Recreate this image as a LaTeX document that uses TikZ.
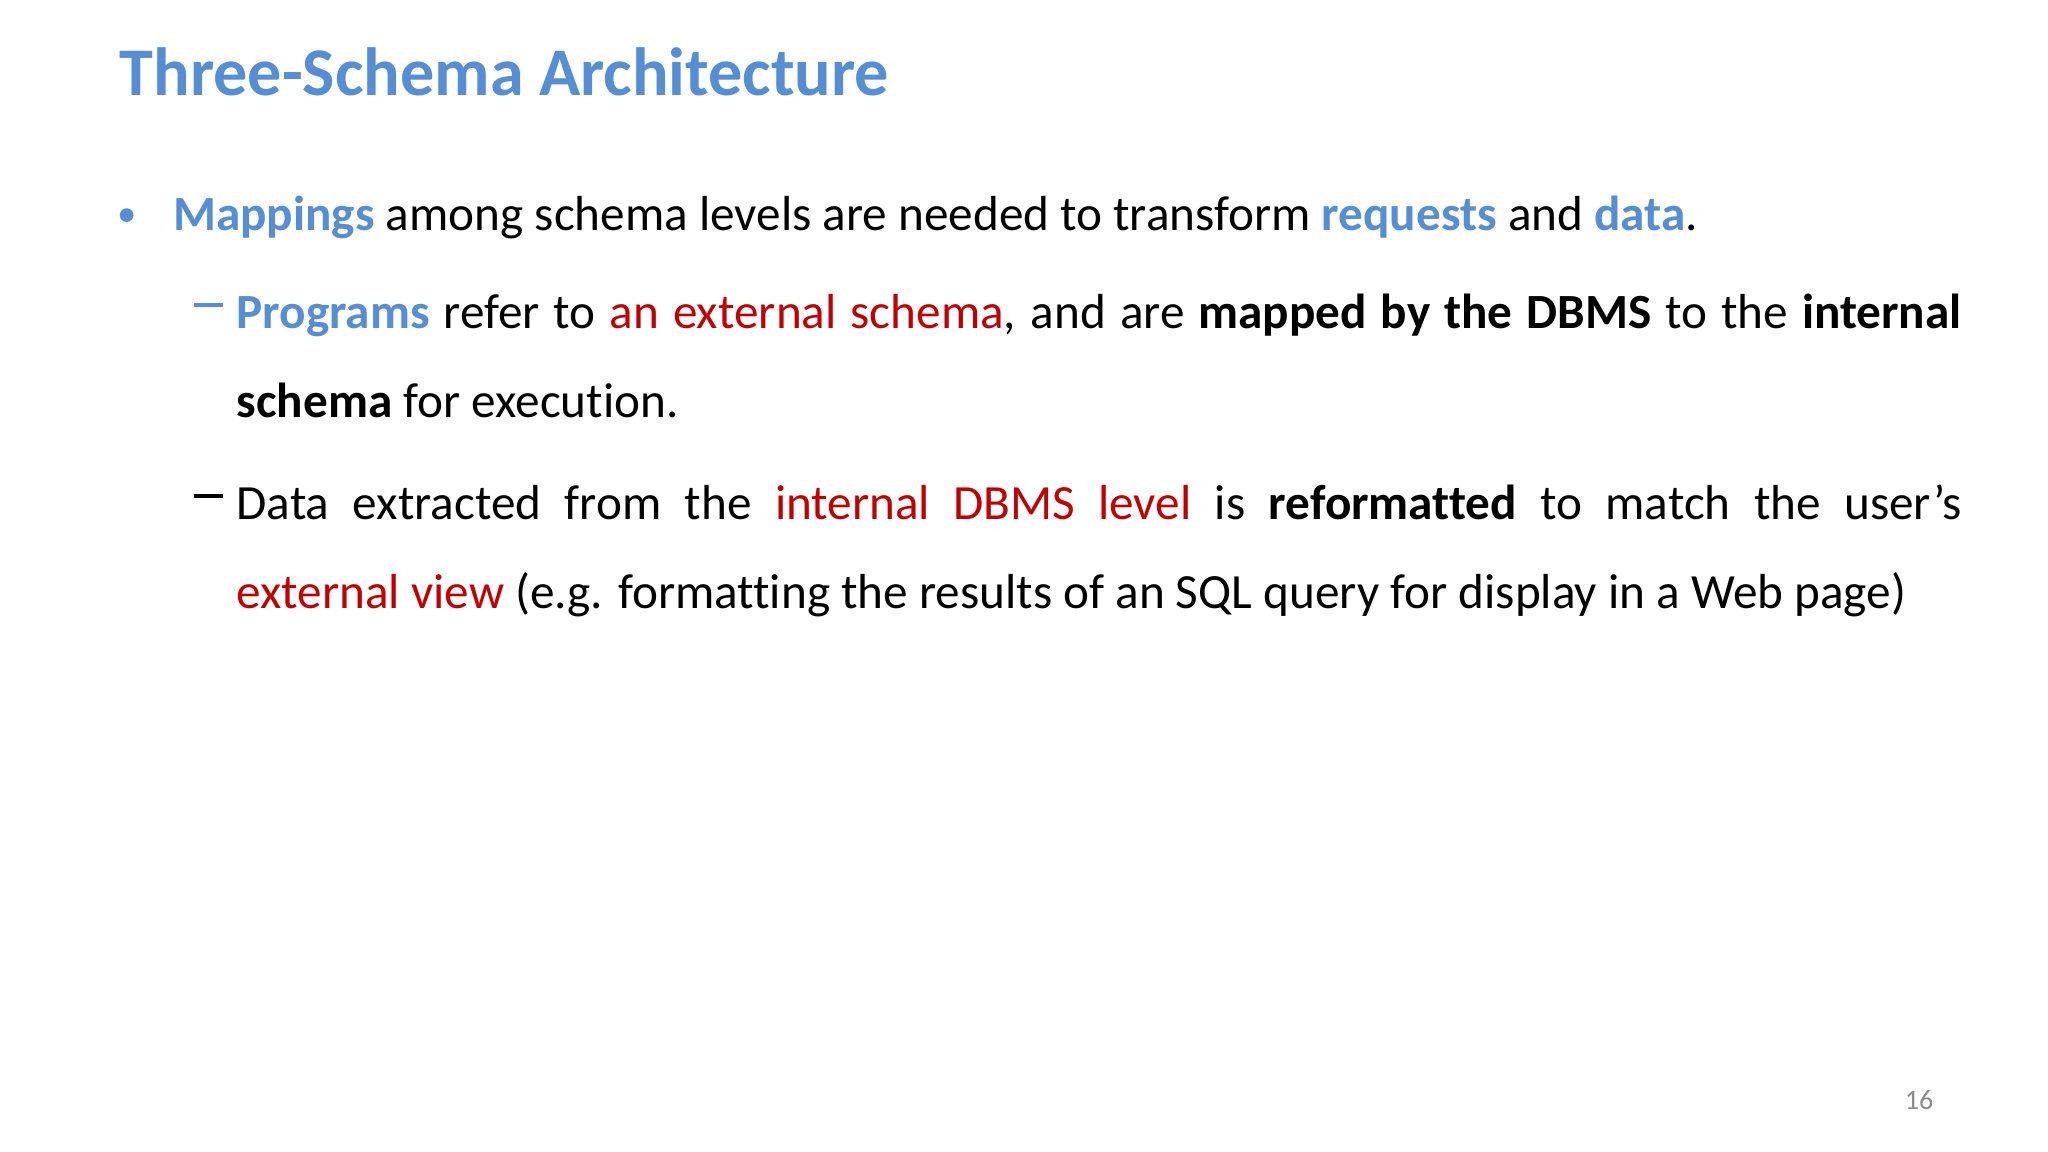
\documentclass[tikz,border=0pt]{standalone}
\usepackage{fontspec}
\setmainfont{Carlito}[Ligatures={NoCommon,TeX}]
\definecolor{tblue}{HTML}{558ED5}
\definecolor{tred}{HTML}{C00000}
\definecolor{pgray}{HTML}{8C8C8C}
\tikzset{txt/.style={anchor=base west,inner sep=0pt,font=\fontsize{14}{26}\selectfont}}
\newcommand{\mydash}{\rule[0.24em]{0.6em}{0.065em}}
\begin{document}
\begin{tikzpicture}
\useasboundingbox (0,0) rectangle (20.48,-11.52);
\node[anchor=base west,inner sep=0pt,font=\fontsize{19.4}{22}\selectfont\bfseries,text=tblue] (title) at (1.19,-0.955) {Three-Schema Architecture};
\node[txt,text=tblue,font=\fontsize{11}{20}\selectfont] (b1) at (1.17,-2.27) {\textbullet};
\node[txt] (t1) at (1.725,-2.31) {\textbf{\textcolor{tblue}{Mappings}} among schema levels are needed to transform \textbf{\textcolor{tblue}{requests}} and \textbf{\textcolor{tblue}{data}}.};
\node[txt,text=tblue] (d1) at (1.93,-3.185) {\mydash};
\node[txt,anchor=north west,text width=17.25cm,align=justify] (t2) at (2.36,-2.935) {\hyphenpenalty=10000\baselineskip=0.89cm \textbf{\textcolor{tblue}{Programs}} refer to \textcolor{tred}{an external schema}, and are \textbf{mapped by the DBMS} to the \textbf{internal schema} for execution.\par};
\node[txt] (d2) at (1.93,-5.095) {\mydash};
\node[txt,anchor=north west,text width=17.25cm,align=justify] (t3) at (2.36,-4.845) {\hyphenpenalty=10000\baselineskip=0.89cm Data extracted from the \textcolor{tred}{internal DBMS level} is \textbf{reformatted} to match the user’s\linebreak \textcolor{tred}{external view} (e.g. formatting the results of an SQL query for display in a Web page)\par};
\node[anchor=base,inner sep=0pt,font=\fontsize{8}{10}\selectfont,text=pgray] (pg) at (19.19,-11.09) {16};
\end{tikzpicture}
\end{document}
